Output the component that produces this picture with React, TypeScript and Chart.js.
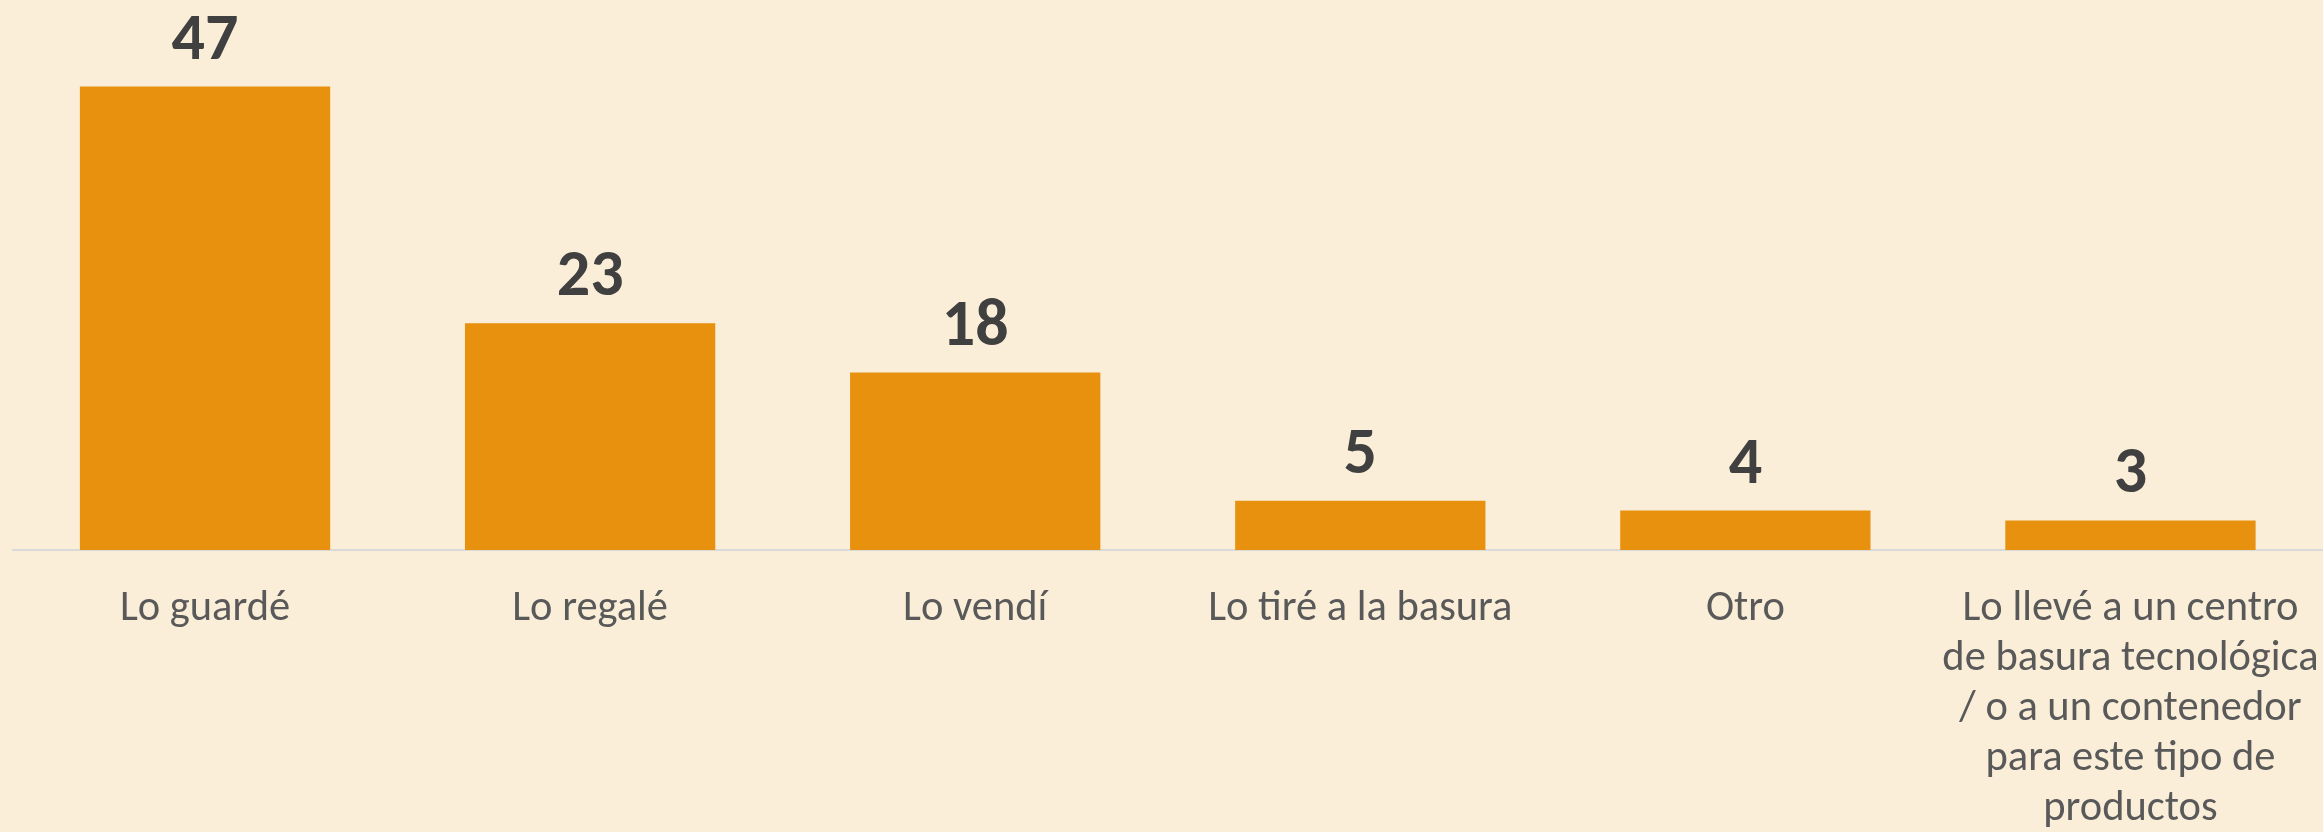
import React, { useEffect, useRef } from "react";
import { Chart, registerables } from "chart.js";

Chart.register(...registerables);

const categories: (string | string[])[] = [
  "Lo guardé",
  "Lo regalé",
  "Lo vendí",
  "Lo tiré a la basura",
  "Otro",
  ["Lo llevé a un centro", "de basura tecnológica", "/ o a un contenedor", "para este tipo de", "productos"],
];
const values: number[] = [47, 23, 18, 5, 4, 3];

const BG = "#FAEED8";
const BAR = "#E8910F";
const FONT = "Carlito, Calibri, 'Open Sans', sans-serif";

const valueLabels = {
  id: "valueLabels",
  afterDatasetsDraw(chart: any) {
    const ctx = chart.ctx;
    const meta = chart.getDatasetMeta(0);
    ctx.save();
    ctx.fillStyle = "#404040";
    ctx.font = `bold 66px ${FONT}`;
    ctx.textAlign = "center";
    ctx.textBaseline = "alphabetic";
    meta.data.forEach((el: any, i: number) => {
      ctx.fillText(String(values[i]), el.x, el.y - 28);
    });
    ctx.restore();
  },
};

const bgPlugin = {
  id: "bg",
  beforeDraw(chart: any) {
    const ctx = chart.ctx;
    ctx.save();
    ctx.fillStyle = BG;
    ctx.fillRect(0, 0, chart.width, chart.height);
    ctx.restore();
  },
};

export default function App() {
  const ref = useRef<HTMLCanvasElement>(null);
  useEffect(() => {
    document.body.style.margin = "0";
    document.body.style.background = BG;
    const chart = new Chart(ref.current!, {
      type: "bar",
      data: {
        labels: categories,
        datasets: [
          {
            data: values,
            backgroundColor: BAR,
            borderWidth: 0,
            barPercentage: 0.65,
            categoryPercentage: 1,
          },
        ],
      },
      options: {
        animation: false,
        responsive: false,
        maintainAspectRatio: false,
        layout: { padding: { left: 12.5, right: 0, top: 57, bottom: 0 } },
        plugins: { legend: { display: false }, tooltip: { enabled: false } },
        scales: {
          x: {
            grid: { display: false, drawTicks: false },
            border: { display: true, color: "#D9D9D9", width: 2 },
            ticks: {
              color: "#595959",
              font: { family: FONT, size: 42.5, lineHeight: 1.18 },
              padding: 34,
              maxRotation: 0,
              minRotation: 0,
              autoSkip: false,
            },
            afterFit(scale: any) {
              scale.height = 282;
              scale.paddingLeft = 0;
              scale.paddingRight = 0;
            },
          },
          y: { display: false, min: 0, max: 50 },
        },
      },
      plugins: [bgPlugin, valueLabels],
    });
    return () => chart.destroy();
  }, []);
  return (
    <div style={{ position: "absolute", left: 0, top: 0, width: 2323, height: 832, background: BG }}>
      <canvas ref={ref} width={2323} height={832} style={{ display: "block" }} />
    </div>
  );
}
